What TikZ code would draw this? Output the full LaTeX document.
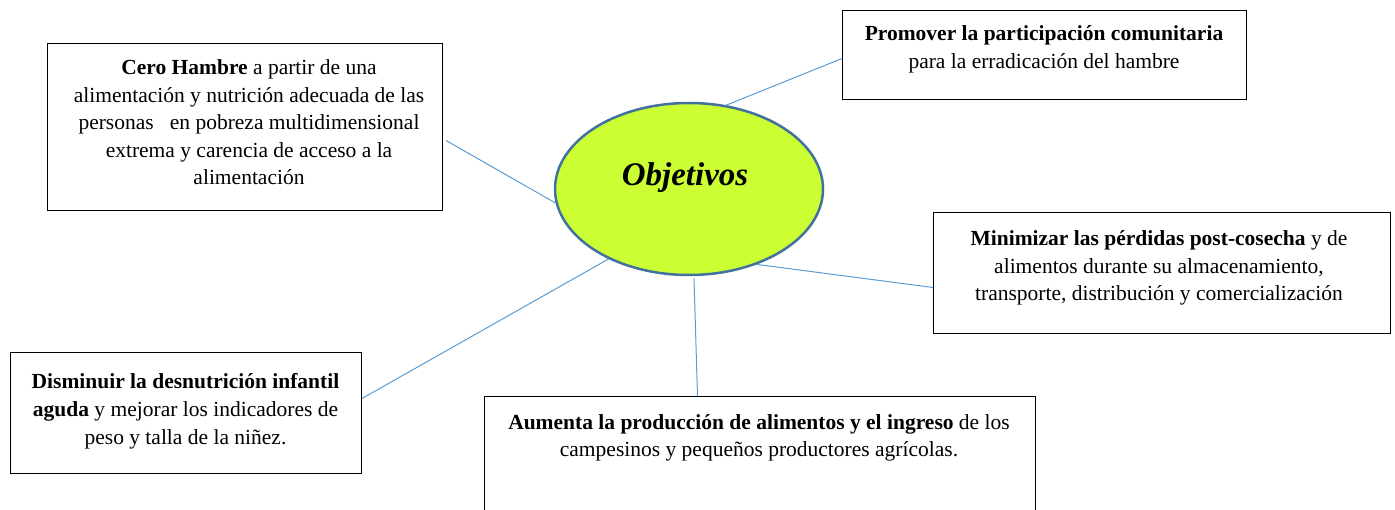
\documentclass[tikz,border=0pt]{standalone}
\usepackage{fontspec}
\setmainfont{Liberation Serif}
\usetikzlibrary{calc,shapes.geometric}
\definecolor{ellfill}{RGB}{204,255,51}
\definecolor{elldraw}{RGB}{65,113,156}
\definecolor{linkblue}{RGB}{91,155,213}
\newcommand\boxpar[2]{\parbox[t]{#1pt}{\centering\fontsize{21.5}{27.5}\selectfont #2}}
\begin{document}
\begin{tikzpicture}[x=1pt,y=-1pt,
  boxshape/.style={draw=black,line width=1pt,inner sep=0pt,anchor=north west},
  boxtext/.style={inner sep=0pt,anchor=base},
  link/.style={draw=linkblue,line width=1pt}]
\useasboundingbox (0,0) rectangle (1395,510);
% boxes
\node[boxshape,minimum width=395pt,minimum height=167pt] (cero) at (47,43) {};
\node[boxshape,minimum width=404pt,minimum height=89pt] (prom) at (842,10) {};
\node[boxshape,minimum width=457pt,minimum height=121pt] (mini) at (933,212) {};
\node[boxshape,minimum width=351pt,minimum height=121pt] (dism) at (10,352) {};
\node[boxshape,minimum width=551pt,minimum height=130pt] (aum) at (484,396) {};
% ellipse
\node[ellipse,draw=elldraw,fill=ellfill,line width=2.5pt,minimum width=268pt,minimum height=172pt,inner sep=0pt] (obj) at (689,189) {};
\node[anchor=base,inner sep=0pt,font=\fontsize{33}{40}\selectfont\bfseries\itshape] (objt) at (685,186) {Objetivos};
% texts
\node[boxtext] (cerot) at (249,75) {\boxpar{395}{\textbf{Cero Hambre} a partir de una\\alimentación y nutrición adecuada de las\\personas\ \ \ en pobreza multidimensional\\extrema y carencia de acceso a la\\alimentación}};
\node[boxtext] (promt) at (1044,41) {\boxpar{404}{\textbf{Promover la participación comunitaria}\\para la erradicación del hambre}};
\node[boxtext] (minit) at (1159,246) {\boxpar{457}{\textbf{Minimizar las pérdidas post-cosecha} y de\\alimentos durante su almacenamiento,\\transporte, distribución y comercialización}};
\node[boxtext] (dismt) at (185.5,389) {\boxpar{351}{\textbf{Disminuir la desnutrición infantil}\\\textbf{aguda} y mejorar los indicadores de\\peso y talla de la niñez.}};
\node[boxtext] (aumt) at (759,429) {\boxpar{551}{\textbf{Aumenta la producción de alimentos y el ingreso} de los\\campesinos y pequeños productores agrícolas.}};
% connectors
\draw[link] ($(cero.east)+(3,13.5)$) -- (obj.186);
\draw[link] (obj.66.7) -- ($(prom.west)+(0,3.5)$);
\draw[link] (obj.-48.9) -- ($(mini.west)+(0,14.5)$);
\draw[link] (obj.221.4) -- ($(dism.east)+(0,-14.5)$);
\draw[link] ($(obj.south)+(5,2)$) -- ($(aum.north)+(-62.5,0)$);
\end{tikzpicture}
\end{document}
